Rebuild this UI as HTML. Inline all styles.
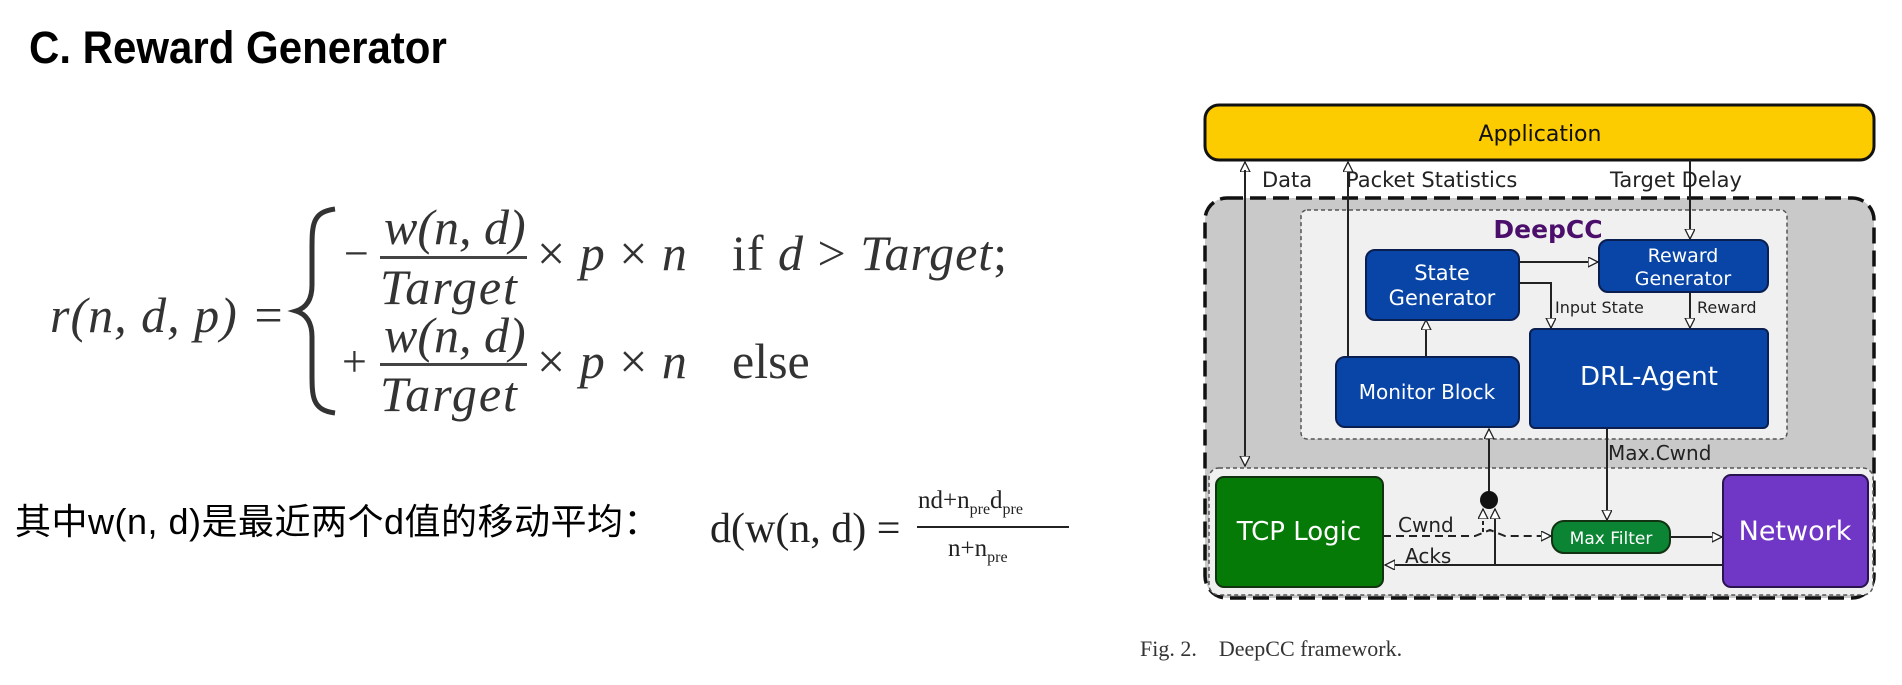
<!DOCTYPE html>
<html><head><meta charset="utf-8"><style>
body{margin:0;width:1902px;height:685px;background:#fff;overflow:hidden;position:relative;font-family:"Liberation Sans","Noto Sans CJK SC",sans-serif}
.t{position:absolute;white-space:nowrap;line-height:1}
.m{font-family:"Liberation Serif","Noto Serif CJK SC",serif;color:#333}
svg{position:absolute;left:0;top:0}
</style></head><body>
<div class="t" style="left:29px;top:25px;font-size:42px;font-weight:bold;color:#000;transform:scaleY(1.08);transform-origin:left top">C. Reward Generator</div>

<div>
<div class="t m" style="left:50px;top:290px;font-size:50px;font-style:italic;letter-spacing:1px">r(n, d, p) =</div>
<svg width="1902" height="685" style="position:absolute;left:0;top:0">
<path d="M335,209 C312,212 312,225 312,250 L312,285 C312,300 306,308 296,311 C306,314 312,322 312,337 L312,372 C312,397 312,410 335,413" fill="none" stroke="#333" stroke-width="5"/>
</svg>
<div class="t m" style="left:344px;top:232px;font-size:44px">−</div>
<div class="t m" style="left:384px;top:202px;font-size:50px;font-style:italic">w(n, d)</div>
<div style="position:absolute;left:380px;top:256px;width:147px;height:3px;background:#444"></div>
<div class="t m" style="left:380px;top:262px;font-size:50px;font-style:italic;letter-spacing:2px">Target</div>
<div class="t m" style="left:537px;top:228px;font-size:50px;letter-spacing:1px">× <i>p</i> × <i>n</i></div>
<div class="t m" style="left:732px;top:228px;font-size:50px;letter-spacing:1px">if <i>d</i> &gt; <i>Target</i>;</div>
<div class="t m" style="left:342px;top:340px;font-size:44px">+</div>
<div class="t m" style="left:384px;top:310px;font-size:50px;font-style:italic">w(n, d)</div>
<div style="position:absolute;left:380px;top:363px;width:147px;height:3px;background:#444"></div>
<div class="t m" style="left:380px;top:369px;font-size:50px;font-style:italic;letter-spacing:2px">Target</div>
<div class="t m" style="left:537px;top:336px;font-size:50px;letter-spacing:1px">× <i>p</i> × <i>n</i></div>
<div class="t m" style="left:732px;top:336px;font-size:50px">else</div>
</div>

<div class="t" style="left:15px;top:504px;font-size:36px;color:#000;letter-spacing:0.5px">其中w(n, d)是最近两个d值的移动平均：</div>
<div>
<div class="t m" style="left:710px;top:508px;font-size:42px;color:#222">d(w(n, d) =</div>
<div class="t m" style="left:918px;top:488px;font-size:25px;color:#222">nd+n<sub style="font-size:16px">pre</sub>d<sub style="font-size:16px">pre</sub></div>
<div style="position:absolute;left:917px;top:526px;width:152px;height:2px;background:#222"></div>
<div class="t m" style="left:948px;top:536px;font-size:25px;color:#222">n+n<sub style="font-size:16px">pre</sub></div>
</div>

<svg width="1902" height="685" font-family="DejaVu Sans, Liberation Sans, sans-serif">
<defs><marker id="a" markerWidth="12" markerHeight="12" refX="10" refY="5" orient="auto" markerUnits="userSpaceOnUse"><path d="M0,0 L10,5 L0,10 Z" fill="#fff" stroke="#222" stroke-width="1.3"/></marker></defs>
<rect x="1205" y="105" width="669" height="55" rx="14" fill="#fccb00" stroke="#111" stroke-width="3"/>
<text x="1540" y="141" font-size="22" text-anchor="middle" fill="#111">Application</text>
<rect x="1205" y="198" width="669" height="400" rx="22" fill="#c9c9c9" stroke="#111" stroke-width="3.5" stroke-dasharray="16,7"/>
<rect x="1301" y="210" width="486" height="229" rx="6" fill="#f0f0f0" stroke="#555" stroke-width="1.5" stroke-dasharray="4,3"/>
<rect x="1209" y="468" width="664" height="127" rx="10" fill="#f0f0f0" stroke="#555" stroke-width="1.5" stroke-dasharray="4,3"/>
<text x="1548" y="238" font-size="25" font-weight="bold" text-anchor="middle" fill="#4b0f6b">DeepCC</text>
<text x="1262" y="187" font-size="21" fill="#222">Data</text>
<text x="1346" y="187" font-size="21" fill="#222">Packet Statistics</text>
<text x="1610" y="187" font-size="21" fill="#222">Target Delay</text>
<g stroke="#222" stroke-width="2" fill="none">
<line x1="1245" y1="466" x2="1245" y2="162" marker-end="url(#a)"/>
<line x1="1245" y1="170" x2="1245" y2="466" marker-end="url(#a)"/>
<line x1="1348" y1="357" x2="1348" y2="162" marker-end="url(#a)"/>
<line x1="1690" y1="160" x2="1690" y2="239" marker-end="url(#a)"/>
<line x1="1519" y1="262" x2="1598" y2="262" marker-end="url(#a)"/>
<polyline points="1519,283 1551,283 1551,328" marker-end="url(#a)"/>
<line x1="1690" y1="292" x2="1690" y2="328" marker-end="url(#a)"/>
<line x1="1426" y1="357" x2="1426" y2="320" marker-end="url(#a)"/>
<line x1="1489" y1="500" x2="1489" y2="429" marker-end="url(#a)"/>
<line x1="1607" y1="428" x2="1607" y2="520" marker-end="url(#a)"/>
<line x1="1670" y1="537" x2="1722" y2="537" marker-end="url(#a)"/>
<line x1="1723" y1="565" x2="1385" y2="565" marker-end="url(#a)"/>
<line x1="1495" y1="565" x2="1495" y2="509" marker-end="url(#a)"/>
<polyline points="1383,536 1475,536 1490,530 1505,536 1551,536" stroke-dasharray="8,5" marker-end="url(#a)"/>
<line x1="1483" y1="532" x2="1483" y2="509" stroke-dasharray="4,3" marker-end="url(#a)"/>
</g>
<circle cx="1489" cy="500" r="9" fill="#111"/>
<rect x="1366" y="250" width="153" height="70" rx="9" fill="#0845a6" stroke="#0a1e50" stroke-width="2"/>
<text x="1442" y="280" font-size="21" fill="#fff" text-anchor="middle">State</text>
<text x="1442" y="305" font-size="21" fill="#fff" text-anchor="middle">Generator</text>
<rect x="1599" y="240" width="169" height="52" rx="9" fill="#0845a6" stroke="#0a1e50" stroke-width="2"/>
<text x="1683" y="262" font-size="19" fill="#fff" text-anchor="middle">Reward</text>
<text x="1683" y="285" font-size="19" fill="#fff" text-anchor="middle">Generator</text>
<text x="1555" y="313" font-size="16" fill="#222">Input State</text>
<text x="1697" y="313" font-size="16" fill="#222">Reward</text>
<rect x="1336" y="357" width="183" height="70" rx="9" fill="#0845a6" stroke="#0a1e50" stroke-width="2"/>
<text x="1427" y="399" font-size="20" fill="#fff" text-anchor="middle">Monitor Block</text>
<rect x="1530" y="329" width="238" height="99" rx="5" fill="#0845a6" stroke="#0a1e50" stroke-width="2"/>
<text x="1649" y="385" font-size="26" fill="#fff" text-anchor="middle">DRL-Agent</text>
<text x="1608" y="460" font-size="20" fill="#222">Max.Cwnd</text>
<rect x="1216" y="477" width="167" height="110" rx="8" fill="#067a06" stroke="#113311" stroke-width="2"/>
<text x="1299" y="540" font-size="26" fill="#fff" text-anchor="middle">TCP Logic</text>
<rect x="1723" y="475" width="145" height="112" rx="8" fill="#7036c6" stroke="#2a1450" stroke-width="2"/>
<text x="1795" y="540" font-size="27" fill="#fff" text-anchor="middle">Network</text>
<rect x="1552" y="521" width="118" height="32" rx="12" fill="#0b8433" stroke="#113311" stroke-width="2"/>
<text x="1611" y="544" font-size="17" fill="#fff" text-anchor="middle">Max Filter</text>
<text x="1398" y="532" font-size="20" fill="#222">Cwnd</text>
<text x="1405" y="563" font-size="20" fill="#222">Acks</text>
</svg>
<div class="t" style="left:1140px;top:638px;font-size:22px;font-family:'Liberation Serif',serif;color:#333">Fig. 2.&nbsp;&nbsp;&nbsp; DeepCC framework.</div>
</body></html>
